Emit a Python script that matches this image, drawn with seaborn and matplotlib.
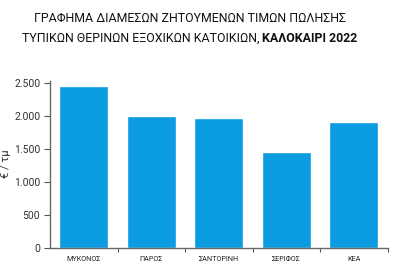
import matplotlib
matplotlib.use("Agg")
import matplotlib.pyplot as plt
import seaborn as sns
import pandas as pd
from matplotlib.ticker import FuncFormatter, FixedLocator
from matplotlib import font_manager

islands = ["ΜΥΚΟΝΟΣ", "ΠΑΡΟΣ", "ΣΑΝΤΟΡΙΝΗ", "ΣΕΡΙΦΟΣ", "ΚΕΑ"]
prices = [2450, 2000, 1970, 1450, 1900]
yticks = [0, 500, 1000, 1500, 2000, 2500]

sns.set_theme(style="white")
names = {f.name for f in font_manager.fontManager.ttflist}
fam = ['Liberation Sans Narrow', 'DejaVu Sans'] if 'Liberation Sans Narrow' in names else ['Roboto', 'DejaVu Sans']
plt.rcParams['font.family'] = fam

df = pd.DataFrame({"island": islands, "price": prices})

fig = plt.figure(figsize=(4.0, 2.69), dpi=100)
ax_top = 80.5
ax = fig.add_axes([50/400, 1-247.7/269, (387.5-50)/400, (247.7-ax_top)/269])

sns.barplot(data=df, x="island", y="price", color="#0A9BE0", saturation=1,
            width=0.72, ax=ax)

ax.set_xlim(-0.5, 4.5)
ax.set_ylim(0, 2500 * (247.7-ax_top)/(247.7-82.7))
ax.set_yticks(yticks)
ax.yaxis.set_major_formatter(FuncFormatter(lambda v, p: f"{int(v):,}".replace(",", ".")))
ax.tick_params(axis="y", direction="out", length=4, width=0.8, color="#555555",
               labelsize=7.5, labelcolor="#333333", pad=3, left=True)
ax.tick_params(axis="x", which="major", length=0, labelsize=5.2, labelcolor="#222222", pad=6)
ax.xaxis.set_minor_locator(FixedLocator([0.5, 1.5, 2.5, 3.5, 4.5]))
ax.tick_params(axis="x", which="minor", direction="out", length=3, width=0.8,
               color="#555555", bottom=True)
ax.set_xlabel("")
ax.set_ylabel("€ / τμ", fontsize=8, color="#333333")
ax.yaxis.set_label_coords((11-50)/337.5, 0.5)

for s in ["top", "right"]:
    ax.spines[s].set_visible(False)
for s in ["left", "bottom"]:
    ax.spines[s].set_color("#666666")
    ax.spines[s].set_linewidth(1.0)

l1 = "ΓΡΑΦΗΜΑ ΔΙΑΜΕΣΩΝ ΖΗΤΟΥΜΕΝΩΝ ΤΙΜΩΝ ΠΩΛΗΣΗΣ"
t1 = "ΤΥΠΙΚΩΝ ΘΕΡΙΝΩΝ ΕΞΟΧΙΚΩΝ ΚΑΤΟΙΚΙΩΝ, "
t2 = "ΚΑΛΟΚΑΙΡΙ 2022"

# fit line 2 width to ~335 px
fs = 8.5
fig.canvas.draw()
r = fig.canvas.get_renderer()
a = fig.text(0, 0, t1, fontsize=fs)
b = fig.text(0, 0, t2, fontsize=fs, fontweight="bold")
w = a.get_window_extent(r).width + b.get_window_extent(r).width
a.remove(); b.remove()
fs = fs * 335 / w

fig.text(190/400, 1-18/269, l1, ha="center", va="center", fontsize=fs, color="#111111")
txt = fig.text(22/400, 1-38/269, t1, ha="left", va="center", fontsize=fs, color="#111111")
fig.canvas.draw()
bb = txt.get_window_extent()
fig.text(bb.x1/400, 1-38/269, t2, ha="left", va="center", fontsize=fs,
         color="#111111", fontweight="bold")

fig.savefig("out.png", dpi=100)
